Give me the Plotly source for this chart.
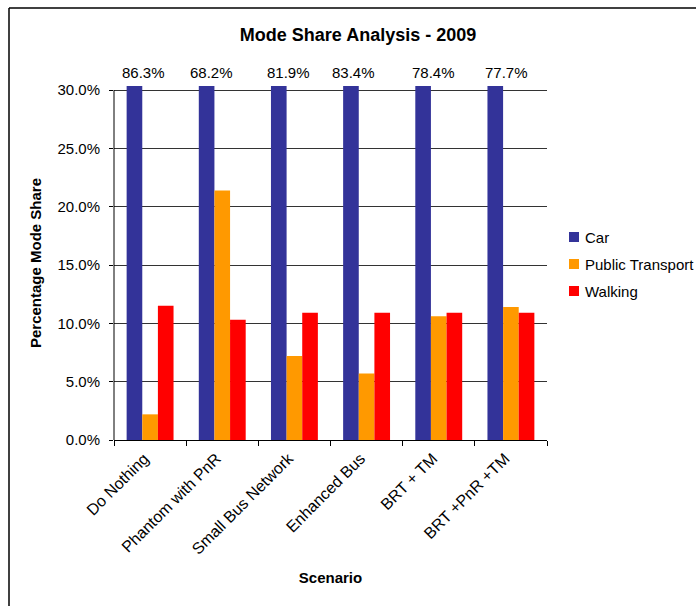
import plotly.graph_objects as go

# Scenario results (percent of trips by mode)
scenarios = ["Do Nothing", "Phantom with PnR", "Small Bus Network",
             "Enhanced Bus", "BRT + TM", "BRT +PnR +TM"]
car = [86.3, 68.2, 81.9, 83.4, 78.4, 77.7]
public_transport = [2.2, 21.4, 7.2, 5.7, 10.6, 11.4]
walking = [11.5, 10.3, 10.9, 10.9, 10.9, 10.9]

y_ticks = [0, 5, 10, 15, 20, 25, 30]

FONT = "Arial, Liberation Sans, sans-serif"
BARGAP = 0.35
Y_MAX = 30.35
# plot-area geometry in pixels (used for placing the frame and key)
L, R, T, B = 114, 547, 86, 440
PW, PH = R - L, B - T


def px_x(px):
    return (px - L) / PW


def px_y(py):
    return (B - py) / PH


# horizontal nudge (px) of each car-share label above the clipped car bars
label_nudge = [9, 5, 10, 3, 10, 11]

fig = go.Figure()
series = [("Car", car, "#333399"),
          ("Public Transport", public_transport, "#FF9900"),
          ("Walking", walking, "#FF0000")]
for name, vals, color in series:
    fig.add_trace(go.Bar(
        name=name, x=scenarios, y=vals, marker_color=color,
        marker_line_width=0, showlegend=False,
    ))

# key to the right of the plot: colour square + series name
for k, (name, _, color) in enumerate(series):
    cy = 237 + 27 * k
    fig.add_shape(type="rect", xref="paper", yref="paper",
                  x0=px_x(569), x1=px_x(579),
                  y0=px_y(cy + 5), y1=px_y(cy - 5),
                  fillcolor=color, line_width=0)
    fig.add_annotation(x=px_x(583), y=px_y(cy), xref="paper", yref="paper",
                       xanchor="left", yanchor="middle", text=name,
                       showarrow=False,
                       font=dict(family=FONT, size=15, color="#000000"))

# car values run far above the axis range, so state them over the plot
bar_w = (1 - BARGAP) / 3
for i, v in enumerate(car):
    fig.add_annotation(
        x=i - bar_w, xref="x", y=1, yref="paper", yanchor="bottom",
        xshift=label_nudge[i], yshift=3,
        text=f"{v:.1f}%", showarrow=False,
        font=dict(family=FONT, size=15, color="#000000"),
    )

# y axis line up to the 30% grid line only
fig.add_shape(type="line", xref="paper", yref="y", x0=0, x1=0, y0=0, y1=30,
              line=dict(color="#000000", width=1))

# chart frame (left and top edges)
fig.add_shape(type="line", xref="paper", yref="paper",
              x0=px_x(9), x1=px_x(9), y0=px_y(640), y1=px_y(8),
              line=dict(color="#000000", width=1.5))
fig.add_shape(type="line", xref="paper", yref="paper",
              x0=px_x(9), x1=px_x(700), y0=px_y(8), y1=px_y(8),
              line=dict(color="#000000", width=1.5))

fig.update_layout(
    width=696, height=606,
    margin=dict(l=L, r=696 - R, t=T, b=606 - B, autoexpand=False),
    paper_bgcolor="#FFFFFF", plot_bgcolor="#FFFFFF",
    barmode="group", bargap=BARGAP, bargroupgap=0,
    font=dict(family=FONT, size=15, color="#000000"),
    title=dict(text="<b>Mode Share Analysis - 2009</b>",
               xref="container", x=358 / 696, xanchor="center",
               yref="container", y=1 - 35 / 606, yanchor="middle",
               font=dict(family=FONT, size=18, color="#000000")),
    showlegend=False,
)

fig.update_xaxes(
    type="category", tickangle=-45, tickson="boundaries",
    ticks="outside", ticklen=5, tickcolor="#000000",
    ticklabelshift=-6, ticklabelstandoff=2,
    showline=True, linecolor="#000000", linewidth=1,
    showgrid=False, zeroline=False,
    tickfont=dict(family=FONT, size=16),
    title=dict(text="<b>Scenario</b>", standoff=15,
               font=dict(family=FONT, size=15)),
)
fig.update_yaxes(
    range=[0, Y_MAX], tickvals=y_ticks,
    ticktext=[f"{t:.1f}%" for t in y_ticks],
    ticks="outside", ticklen=4, tickcolor="#000000",
    ticklabelstandoff=6,
    showline=False, showgrid=True, gridcolor="#333333", gridwidth=1,
    zeroline=False,
    tickfont=dict(family=FONT, size=15),
    title=dict(text="<b>Percentage Mode Share</b>", standoff=12,
               font=dict(family=FONT, size=15)),
)

fig.write_html("out.html")
